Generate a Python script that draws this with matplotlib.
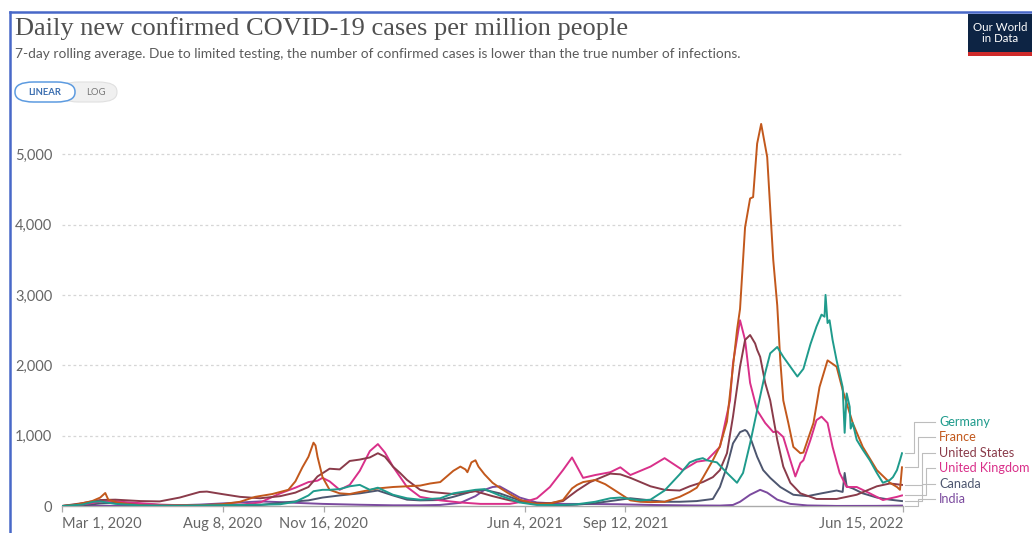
import numpy as np
import matplotlib
matplotlib.use("Agg")
import matplotlib.pyplot as plt
from matplotlib.patches import FancyBboxPatch, Rectangle
from matplotlib.lines import Line2D

# ---------------- data (7-day average, cases per million) ----------------
germany_dates = ["2020-03-01", "2020-03-21", "2020-04-01", "2020-04-08", "2020-04-23", "2020-05-18",
                 "2020-06-26", "2020-08-07", "2020-09-14", "2020-10-04", "2020-10-19", "2020-11-01",
                 "2020-11-06", "2020-11-15", "2020-11-22", "2020-12-02", "2020-12-12", "2020-12-22",
                 "2021-01-01", "2021-01-09", "2021-01-24", "2021-02-07", "2021-02-20", "2021-03-12",
                 "2021-03-25", "2021-04-16", "2021-04-25", "2021-05-10", "2021-05-30", "2021-06-16",
                 "2021-07-12", "2021-07-26", "2021-08-13", "2021-08-28", "2021-09-07", "2021-09-27",
                 "2021-10-07", "2021-10-21", "2021-11-05", "2021-11-15", "2021-11-22", "2021-11-28",
                 "2021-12-02", "2021-12-12", "2021-12-22", "2022-01-01", "2022-01-07", "2022-01-14",
                 "2022-01-21", "2022-01-29", "2022-02-03", "2022-02-10", "2022-02-16", "2022-02-23",
                 "2022-03-02", "2022-03-08", "2022-03-15", "2022-03-21", "2022-03-26", "2022-03-29",
                 "2022-03-30", "2022-04-01", "2022-04-03", "2022-04-06", "2022-04-10", "2022-04-16",
                 "2022-04-18", "2022-04-20", "2022-04-23", "2022-04-24", "2022-04-26", "2022-04-30",
                 "2022-05-06", "2022-05-13", "2022-05-20", "2022-05-26", "2022-06-02", "2022-06-05",
                 "2022-06-09", "2022-06-12", "2022-06-14"]
germany_vals = [0, 20, 60, 65, 30, 8,
                5, 12, 18, 25, 60, 150,
                210, 230, 230, 240, 280, 300,
                230, 260, 160, 110, 90, 110,
                180, 230, 240, 150, 50, 15,
                15, 25, 60, 110, 120, 80,
                90, 220, 450, 620, 660, 680,
                650, 620, 470, 330, 470, 890,
                1360, 1890, 2170, 2260, 2120, 1980,
                1840, 1950, 2300, 2550, 2720, 2690,
                3000, 2600, 2640, 2360, 2070, 1690,
                1040, 1600, 1410, 1100, 1180, 940,
                800, 650, 470, 330, 370, 410,
                510, 650, 750]

france_dates = ["2020-03-01", "2020-03-15", "2020-03-31", "2020-04-08", "2020-04-13", "2020-04-16",
                "2020-04-25", "2020-05-10", "2020-05-25", "2020-06-15", "2020-07-15", "2020-08-07",
                "2020-08-25", "2020-09-09", "2020-09-26", "2020-10-04", "2020-10-12", "2020-10-19",
                "2020-10-26", "2020-11-01", "2020-11-04", "2020-11-06", "2020-11-08", "2020-11-10",
                "2020-11-15", "2020-11-22", "2020-12-02", "2020-12-12", "2020-12-22", "2021-01-09",
                "2021-01-24", "2021-02-20", "2021-03-02", "2021-03-12", "2021-03-25", "2021-04-01",
                "2021-04-06", "2021-04-08", "2021-04-12", "2021-04-16", "2021-04-19", "2021-04-25",
                "2021-05-03", "2021-05-10", "2021-05-20", "2021-05-30", "2021-06-09", "2021-06-16",
                "2021-06-29", "2021-07-12", "2021-07-21", "2021-07-26", "2021-08-01", "2021-08-13",
                "2021-08-23", "2021-09-04", "2021-09-17", "2021-09-27", "2021-10-07", "2021-10-21",
                "2021-11-05", "2021-11-15", "2021-11-22", "2021-11-28", "2021-12-08", "2021-12-15",
                "2021-12-22", "2021-12-28", "2022-01-01", "2022-01-04", "2022-01-09", "2022-01-14",
                "2022-01-17", "2022-01-21", "2022-01-25", "2022-01-31", "2022-02-06", "2022-02-10",
                "2022-02-13", "2022-02-16", "2022-02-21", "2022-02-26", "2022-03-05", "2022-03-08",
                "2022-03-18", "2022-03-24", "2022-04-01", "2022-04-10", "2022-04-16", "2022-04-26",
                "2022-05-06", "2022-05-20", "2022-06-02", "2022-06-09", "2022-06-12", "2022-06-14"]
france_vals = [0, 20, 70, 120, 185, 90,
               50, 20, 5, 8, 10, 25,
               60, 130, 170, 200, 230, 350,
               550, 700, 820, 900, 860, 700,
               410, 230, 180, 170, 200, 250,
               270, 290, 320, 340, 500, 560,
               520, 480, 620, 650, 560, 450,
               330, 260, 170, 90, 50, 30,
               35, 85, 250, 300, 340, 370,
               310, 200, 80, 60, 55, 60,
               130, 200, 260, 400, 650, 850,
               1200, 1980, 2500, 2800, 3960, 4370,
               4390, 5150, 5430, 4960, 3500, 2850,
               2070, 1500, 1180, 840, 750, 760,
               1180, 1690, 2070, 1980, 1650, 1180,
               840, 510, 330, 270, 230, 550]

us_dates = ["2020-03-01", "2020-03-21", "2020-04-08", "2020-04-23", "2020-05-18", "2020-06-06",
            "2020-06-26", "2020-07-16", "2020-07-23", "2020-08-07", "2020-08-25", "2020-09-14",
            "2020-10-04", "2020-10-19", "2020-11-01", "2020-11-10", "2020-11-22", "2020-12-02",
            "2020-12-12", "2020-12-22", "2021-01-01", "2021-01-09", "2021-01-16", "2021-01-24",
            "2021-01-31", "2021-02-07", "2021-02-20", "2021-03-02", "2021-03-25", "2021-04-16",
            "2021-05-03", "2021-05-20", "2021-06-09", "2021-06-29", "2021-07-12", "2021-07-26",
            "2021-08-08", "2021-08-28", "2021-09-07", "2021-09-17", "2021-10-07", "2021-10-21",
            "2021-11-05", "2021-11-15", "2021-11-28", "2021-12-08", "2021-12-15", "2021-12-22",
            "2021-12-28", "2022-01-04", "2022-01-09", "2022-01-14", "2022-01-19", "2022-01-21",
            "2022-01-24", "2022-01-29", "2022-02-03", "2022-02-10", "2022-02-16", "2022-02-23",
            "2022-03-05", "2022-03-21", "2022-04-10", "2022-04-30", "2022-05-20", "2022-06-02",
            "2022-06-14"]
us_vals = [0, 40, 85, 90, 70, 65,
           120, 200, 205, 170, 130, 110,
           140, 190, 270, 420, 530, 520,
           640, 660, 690, 750, 700, 560,
           470, 370, 230, 200, 170, 210,
           140, 80, 40, 40, 70, 220,
           340, 460, 450, 400, 280, 230,
           220, 280, 340, 410, 510, 750,
           1270, 1980, 2360, 2430, 2310, 2220,
           2120, 1750, 1500, 940, 560, 330,
           180, 100, 100, 160, 280, 320,
           300]

uk_dates = ["2020-03-01", "2020-03-21", "2020-04-08", "2020-04-23", "2020-05-03", "2020-05-18",
            "2020-06-06", "2020-06-26", "2020-07-16", "2020-08-07", "2020-08-25", "2020-09-14",
            "2020-10-04", "2020-10-19", "2020-11-01", "2020-11-10", "2020-11-15", "2020-11-22",
            "2020-12-02", "2020-12-12", "2020-12-22", "2021-01-01", "2021-01-09", "2021-01-16",
            "2021-01-24", "2021-02-07", "2021-02-20", "2021-03-12", "2021-04-01", "2021-04-21",
            "2021-05-20", "2021-06-09", "2021-06-16", "2021-06-29", "2021-07-12", "2021-07-21",
            "2021-08-01", "2021-08-13", "2021-08-28", "2021-09-07", "2021-09-17", "2021-10-07",
            "2021-10-21", "2021-11-08", "2021-11-22", "2021-12-02", "2021-12-15", "2021-12-25",
            "2021-12-28", "2022-01-04", "2022-01-09", "2022-01-14", "2022-01-21", "2022-01-29",
            "2022-02-06", "2022-02-10", "2022-02-16", "2022-02-23", "2022-02-28", "2022-03-05",
            "2022-03-08", "2022-03-15", "2022-03-21", "2022-03-26", "2022-04-01", "2022-04-06",
            "2022-04-13", "2022-04-20", "2022-04-30", "2022-05-13", "2022-05-26", "2022-06-09",
            "2022-06-14"]
uk_vals = [0, 20, 60, 70, 55, 40,
           20, 12, 10, 12, 18, 50,
           180, 260, 340, 360, 400, 350,
           230, 300, 500, 780, 880, 760,
           560, 270, 130, 80, 50, 30,
           30, 80, 110, 270, 510, 690,
           400, 440, 480, 550, 440, 560,
           680, 510, 630, 650, 840, 1500,
           2030, 2640, 2360, 1750, 1360, 1180,
           1050, 1060, 980, 650, 420, 610,
           650, 940, 1220, 1270, 1180, 840,
           470, 270, 270, 180, 85, 130,
           150]

canada_dates = ["2020-03-01", "2020-03-21", "2020-04-08", "2020-04-23", "2020-05-03", "2020-05-18",
                "2020-06-06", "2020-06-26", "2020-07-16", "2020-08-07", "2020-09-14", "2020-10-04",
                "2020-10-19", "2020-11-01", "2020-11-15", "2020-12-02", "2020-12-22", "2021-01-09",
                "2021-01-24", "2021-02-07", "2021-02-20", "2021-03-12", "2021-03-25", "2021-04-16",
                "2021-04-25", "2021-05-10", "2021-05-30", "2021-06-16", "2021-07-12", "2021-07-26",
                "2021-08-13", "2021-09-07", "2021-09-17", "2021-10-07", "2021-10-21", "2021-11-05",
                "2021-11-22", "2021-12-08", "2021-12-15", "2021-12-22", "2021-12-28", "2022-01-04",
                "2022-01-09", "2022-01-11", "2022-01-14", "2022-01-21", "2022-01-27", "2022-02-03",
                "2022-02-13", "2022-02-26", "2022-03-12", "2022-03-26", "2022-04-10", "2022-04-16",
                "2022-04-18", "2022-04-20", "2022-04-26", "2022-05-06", "2022-05-20", "2022-06-02",
                "2022-06-14"]
canada_vals = [0, 10, 35, 45, 35, 30,
               15, 8, 10, 10, 15, 45,
               65, 80, 120, 150, 180, 220,
               150, 90, 80, 85, 130, 220,
               230, 180, 80, 30, 12, 20,
               40, 90, 110, 80, 60, 60,
               70, 100, 270, 560, 890, 1050,
               1080, 1060, 980, 700, 510, 400,
               270, 160, 140, 180, 220, 200,
               470, 280, 250, 180, 120, 90,
               70]

india_dates = ["2020-03-01", "2020-06-06", "2020-07-16", "2020-08-25", "2020-09-14", "2020-10-04",
               "2020-10-19", "2020-11-15", "2020-12-22", "2021-01-24", "2021-02-20", "2021-03-12",
               "2021-04-01", "2021-04-16", "2021-04-25", "2021-05-03", "2021-05-10", "2021-05-20",
               "2021-05-30", "2021-06-16", "2021-07-12", "2021-08-13", "2021-09-04", "2021-10-07",
               "2021-11-15", "2021-12-15", "2021-12-28", "2022-01-04", "2022-01-14", "2022-01-24",
               "2022-01-31", "2022-02-10", "2022-02-23", "2022-03-12", "2022-04-10", "2022-05-20",
               "2022-06-14"]
india_vals = [0, 3, 20, 50, 65, 55,
              45, 30, 18, 10, 10, 15,
              45, 140, 230, 270, 280, 200,
              120, 50, 30, 28, 25, 15,
              8, 6, 15, 60, 160, 230,
              190, 90, 30, 8, 1, 2,
              6]

countries = ["Germany", "France", "United States", "United Kingdom", "Canada", "India"]
tick_dates = ["2020-03-01", "2020-08-08", "2020-11-16", "2021-06-04", "2021-09-12", "2022-06-15"]
tick_labels = ["Mar 1, 2020", "Aug 8, 2020", "Nov 16, 2020", "Jun 4, 2021", "Sep 12, 2021", "Jun 15, 2022"]
y_ticks = [0, 1000, 2000, 3000, 4000, 5000]
y_tick_labels = ["0", "1,000", "2,000", "3,000", "4,000", "5,000"]

series = [
    (germany_dates, germany_vals, "#1f9b8c"),
    (france_dates, france_vals, "#c2581c"),
    (us_dates, us_vals, "#8a3b4a"),
    (uk_dates, uk_vals, "#d9308a"),
    (canada_dates, canada_vals, "#4d566f"),
    (india_dates, india_vals, "#7b4a9e"),
]

# ---------------- figure ----------------
W, H = 1032, 533
fig = plt.figure(figsize=(W / 100, H / 100), dpi=100)
fig.patch.set_facecolor("white")

def fx(px):
    return px / W

def fy(py):
    return 1 - py / H

ax_left, ax_right, ax_bottom, ax_top = 62, 903, 506, 119
ax = fig.add_axes([fx(ax_left), fy(ax_bottom), fx(ax_right - ax_left), fy(ax_top) - fy(ax_bottom)])
ax.set_facecolor("none")

def to_dt(ds):
    return np.array(ds, dtype="datetime64[D]").astype("datetime64[ms]").astype(object)

# draw in reverse so Germany sits on top
for ds, vs, c in reversed(series):
    ax.plot(to_dt(ds), vs, color=c, lw=1.4, solid_joinstyle="round", zorder=3)

x0 = to_dt(["2020-03-01"])[0]
x1 = to_dt(["2022-06-15"])[0]
ax.set_xlim(x0, x1)
ax.set_ylim(0, 5500)

for s in ["top", "right", "left"]:
    ax.spines[s].set_visible(False)
ax.spines["bottom"].set_color("#aaaaaa")
ax.spines["bottom"].set_linewidth(1.0)

# grid lines
for yv in y_ticks[1:]:
    ax.axhline(yv, color="#d6d6d6", lw=0.9, ls=(0, (2.2, 2.2)), zorder=1)

ax.set_yticks(y_ticks)
ax.set_yticklabels(y_tick_labels)
ax.tick_params(axis="y", length=0, pad=7, labelsize=10.5, labelcolor="#666666")
for t in ax.get_yticklabels():
    t.set_fontfamily("Lato")

ax.set_xticks(to_dt(tick_dates))
ax.set_xticklabels(tick_labels)
ax.tick_params(axis="x", length=4, width=0.9, color="#aaaaaa", pad=4, labelsize=10.5, labelcolor="#666666")
xt = ax.get_xticklabels()
for t in xt:
    t.set_fontfamily("Lato")
xt[0].set_horizontalalignment("left")
xt[-1].set_horizontalalignment("right")

# ---------------- end-of-line labels with elbow connectors ----------------
label_py = [422, 437, 453, 468, 484, 499]
elbow_px = [914, 918, 922, 926, 922, 918]
label_colors = ["#1f9b8c", "#c2581c", "#8a3b4a", "#d9308a", "#4d566f", "#7b4a9e"]

def data_y_to_px(v):
    return ax_bottom - v / 5500 * (ax_bottom - ax_top)

for (ds, vs, c), name, lpy, ex, lc in zip(series, countries, label_py, elbow_px, label_colors):
    sy = data_y_to_px(vs[-1])
    xs = [905, ex, ex, 935]
    ys = [sy, sy, lpy, lpy]
    fig.add_artist(Line2D([fx(v) for v in xs], [fy(v) for v in ys], color="#bdbdbd", lw=0.8))
    fig.text(fx(939), fy(lpy), name, color=lc, fontsize=9.1, family="Lato", va="center", ha="left")

# ---------------- header ----------------
fig.text(fx(15), fy(29), "Daily new confirmed COVID-19 cases per million people",
         family="Liberation Serif", fontsize=19, color="#505050", va="center", ha="left")
fig.text(fx(15), fy(54), "7-day rolling average. Due to limited testing, the number of confirmed cases is lower than the true number of infections.",
         family="Lato", fontsize=9.9, color="#5b5b5b", va="center", ha="left")

# LINEAR / LOG toggle
log_box = FancyBboxPatch((fx(60), fy(102)), fx(57), fy(82) - fy(102),
                         boxstyle="round,pad=0,rounding_size=0.018", transform=fig.transFigure,
                         facecolor="#f0f0f0", edgecolor="#e0e0e0", lw=0.8)
fig.add_artist(log_box)
lin_box = FancyBboxPatch((fx(15), fy(102)), fx(60), fy(82) - fy(102),
                         boxstyle="round,pad=0,rounding_size=0.018", transform=fig.transFigure,
                         facecolor="white", edgecolor="#5d9be0", lw=1.1)
fig.add_artist(lin_box)
fig.text(fx(45), fy(92.5), "LINEAR", family="Lato", fontsize=6.8, weight="bold", color="#3c6fb0",
         ha="center", va="center")
fig.text(fx(96), fy(92.5), "LOG", family="Lato", fontsize=6.8, color="#777777", ha="center", va="center")

# logo
fig.add_artist(Rectangle((fx(968), fy(52)), fx(64), fy(14) - fy(52), transform=fig.transFigure,
                         facecolor="#0d2444", edgecolor="none"))
fig.add_artist(Rectangle((fx(968), fy(56)), fx(64), fy(52) - fy(56), transform=fig.transFigure,
                         facecolor="#cf2a2a", edgecolor="none"))
fig.text(fx(1000), fy(33), "Our World\nin Data", family="Lato", fontsize=8.3, color="white",
         ha="center", va="center", linespacing=0.95)

# frame
fig.add_artist(Line2D([fx(10), fx(10)], [fy(12), fy(533)], color="#4868c8", lw=1.8))
fig.add_artist(Line2D([fx(10), fx(1032)], [fy(12), fy(12)], color="#4868c8", lw=1.8))

fig.savefig("out.png", dpi=100)
